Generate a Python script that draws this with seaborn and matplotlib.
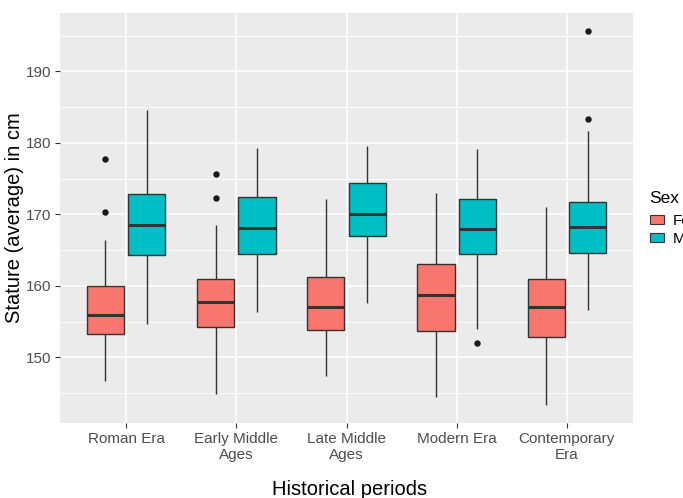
import pandas as pd
import matplotlib
matplotlib.use("Agg")
import matplotlib.pyplot as plt
from matplotlib.patches import Patch
from matplotlib.ticker import MultipleLocator
import seaborn as sns

periods = ["Roman Era", "Early Middle\nAges", "Late Middle\nAges", "Modern Era", "Contemporary\nEra"]
sexes = ["Female", "Male"]
colors = ["#F8766D", "#00BFC4"]

# box summaries, in cm
female_low = [146.7, 144.9, 147.4, 144.5, 143.4]
female_q1 = [153.3, 154.2, 153.8, 153.7, 152.8]
female_median = [156.0, 157.8, 157.1, 158.8, 157.1]
female_q3 = [160.0, 161.0, 161.2, 163.1, 161.0]
female_high = [166.4, 168.5, 172.2, 173.0, 171.1]
female_outliers = [[170.3, 177.7], [172.3, 175.6], [], [], []]

male_low = [154.7, 156.3, 157.6, 154.0, 156.6]
male_q1 = [164.3, 164.4, 167.0, 164.5, 164.6]
male_median = [168.5, 168.1, 170.0, 168.0, 168.3]
male_q3 = [172.9, 172.4, 174.4, 172.1, 171.7]
male_high = [184.6, 179.3, 179.6, 179.1, 181.7]
male_outliers = [[], [], [], [152.0], [183.3, 195.6]]


def box_points(lo, q1, med, q3, hi, outs):
    # 13 values whose quartiles land exactly on q1 / median / q3
    below = sorted([lo] + [o for o in outs if o < q1])
    above = sorted([hi] + [o for o in outs if o > q3])
    return below + [q1] * (6 - len(below)) + [med] + [q3] * (6 - len(above)) + above


rows = []
groups = {
    "Female": (female_low, female_q1, female_median, female_q3, female_high, female_outliers),
    "Male": (male_low, male_q1, male_median, male_q3, male_high, male_outliers),
}
for sex, stats in groups.items():
    for i, period in enumerate(periods):
        for v in box_points(*(s[i] for s in stats)):
            rows.append({"period": period, "sex": sex, "stature": v})
df = pd.DataFrame(rows)

plt.rcParams["font.family"] = ["Liberation Sans", "DejaVu Sans"]

fig = plt.figure(figsize=(6.83, 4.98), dpi=100)
ax = fig.add_axes([60 / 683, (498 - 423.3) / 498, 573 / 683, 410.6 / 498])
ax.set_facecolor("#EBEBEB")
ax.set_axisbelow(True)

sns.boxplot(data=df, x="period", y="stature", hue="sex", order=periods, hue_order=sexes,
            palette=colors, saturation=1, width=0.75, gap=0.1, linewidth=1.0, linecolor="#333333",
            showcaps=False, medianprops={"linewidth": 2.2},
            flierprops={"marker": "o", "markerfacecolor": "#1A1A1A", "markeredgecolor": "#1A1A1A",
                        "markersize": 3.6},
            legend=False, ax=ax)

ax.set_xlim(-0.6, 4.6)
ax.set_ylim(140.8, 198.2)
ax.yaxis.set_major_locator(MultipleLocator(10))
ax.yaxis.set_minor_locator(MultipleLocator(5))
ax.grid(which="major", color="white", linewidth=1.1)
ax.grid(which="minor", axis="y", color="white", linewidth=0.55)
for s in ax.spines.values():
    s.set_visible(False)
ax.tick_params(which="major", length=3.8, width=0.8, color="#333333", labelcolor="#4D4D4D",
               labelsize=11, pad=2.5)
ax.tick_params(which="minor", length=0)

ax.set_xlabel("Historical periods", fontsize=14.5, color="black")
ax.set_ylabel("Stature (average) in cm", fontsize=14.5, color="black")
ax.xaxis.set_label_coords(0.505, -0.138)
ax.yaxis.set_label_coords(-0.062, 0.5)

fig.text(649 / 683, 1 - 198 / 498, "Sex", fontsize=12.5, va="center", ha="left")
handles = [Patch(facecolor=c, edgecolor="#333333", linewidth=0.8) for c in colors]
fig.legend(handles, sexes, loc="upper left", bbox_to_anchor=(650 / 683, 1 - 214 / 498),
           frameon=False, fontsize=11, borderpad=0, borderaxespad=0,
           handlelength=0.9, handleheight=0.5, handletextpad=0.6, labelspacing=0.25)

fig.savefig("out.png", dpi=100)
